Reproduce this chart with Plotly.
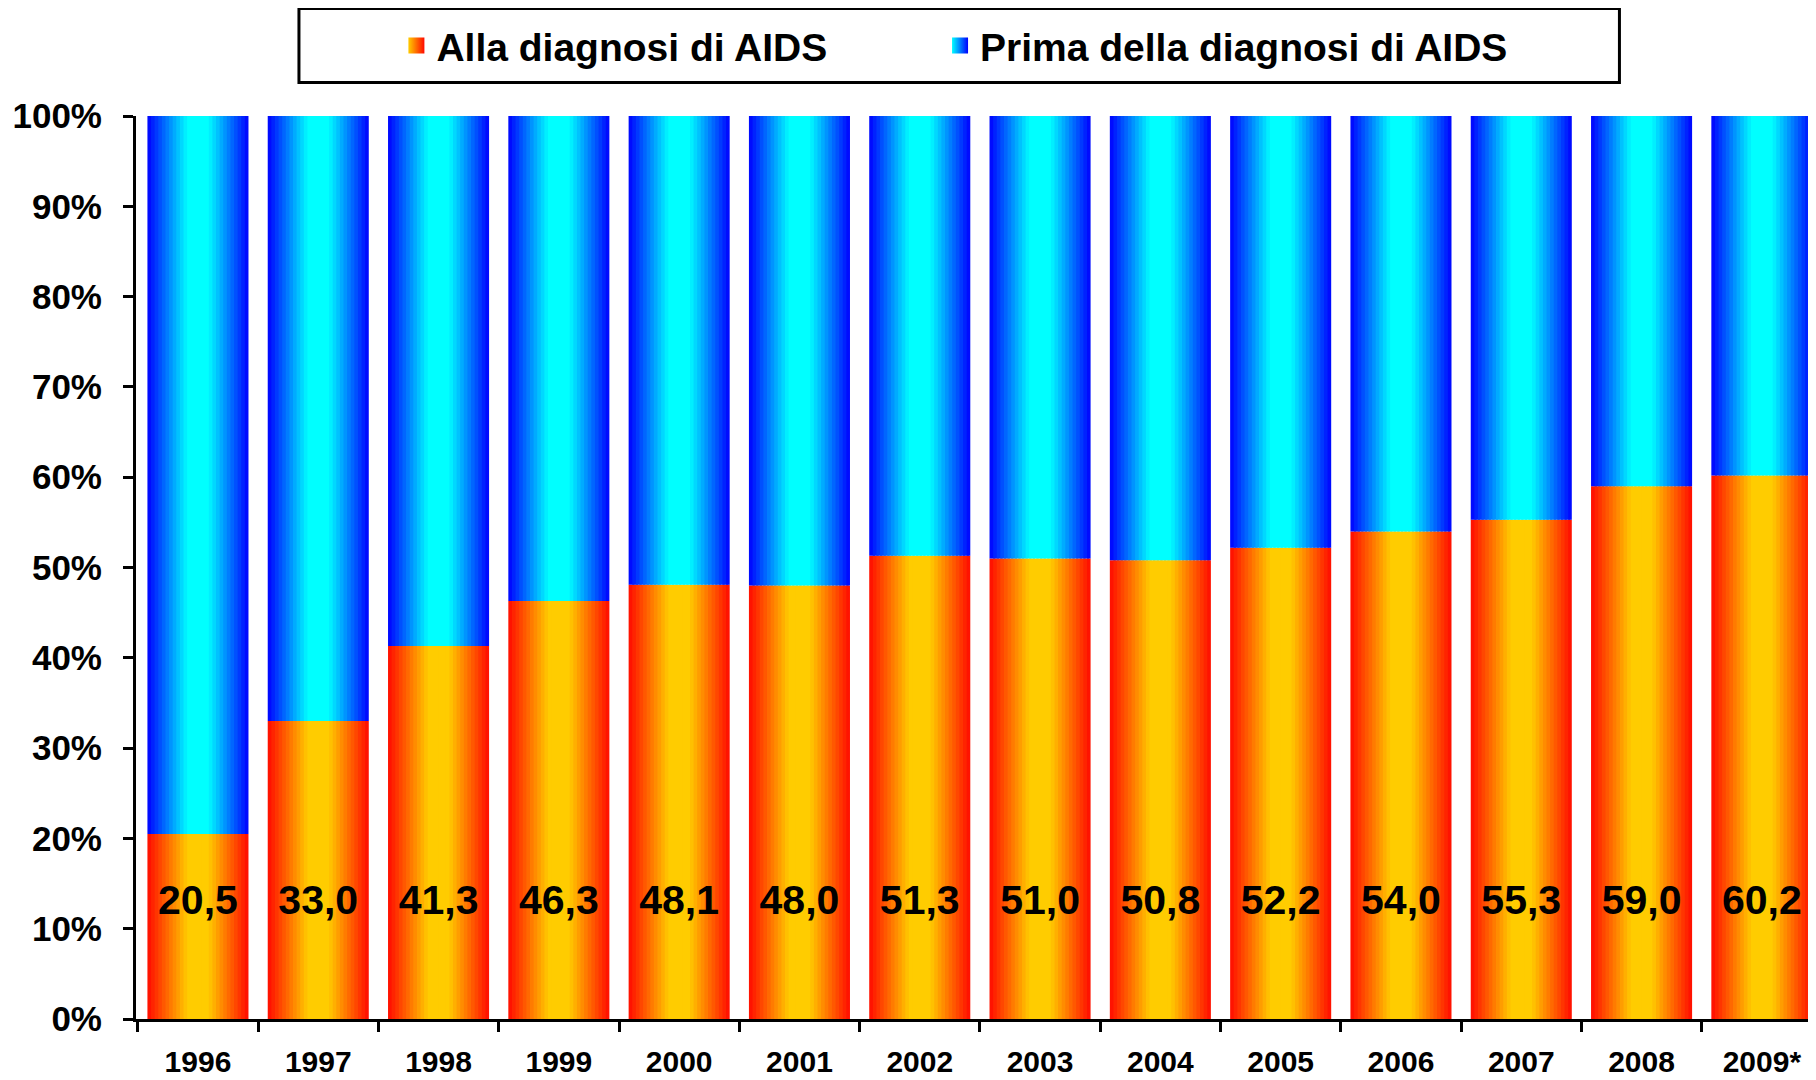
import plotly.graph_objects as go

# data
years = ["1996", "1997", "1998", "1999", "2000", "2001", "2002",
         "2003", "2004", "2005", "2006", "2007", "2008", "2009*"]
alla_diagnosi = [20.5, 33.0, 41.3, 46.3, 48.1, 48.0, 51.3,
                 51.0, 50.8, 52.2, 54.0, 55.3, 59.0, 60.2]
prima_diagnosi = [round(100 - v, 1) for v in alla_diagnosi]
labels = [f"{v:.1f}".replace(".", ",") for v in alla_diagnosi]

series_names = ["Alla diagnosi di AIDS", "Prima della diagnosi di AIDS"]

# styling
FONT = "Liberation Sans"
BAR_WIDTH = 0.84
N_SLICES = 28
LABEL_Y = 12.8
ORANGE_CENTER, ORANGE_EDGE = (255, 204, 0), (255, 10, 0)
BLUE_CENTER, BLUE_EDGE = (0, 255, 255), (0, 0, 255)


def mix(c1, c2, f):
    return "rgb(%d,%d,%d)" % tuple(round(a + (b - a) * f) for a, b in zip(c1, c2))


def edge_factor(pos):
    # 0 in the middle of the bar, 1 at its edges (horizontal gradient)
    t = abs(pos - 0.5) * 2
    return min(max((t - 0.2) / 0.8, 0), 1)


fig = go.Figure()

slice_w = BAR_WIDTH / N_SLICES
for i in range(N_SLICES):
    pos = (i + 0.5) / N_SLICES
    f = edge_factor(pos)
    off = -BAR_WIDTH / 2 + i * slice_w
    w = slice_w * 1.6 if i < N_SLICES - 1 else slice_w
    fig.add_trace(go.Bar(
        x=years, y=alla_diagnosi, offset=off, width=w,
        marker=dict(color=mix(ORANGE_CENTER, ORANGE_EDGE, f), line=dict(width=0)),
        name=series_names[0], showlegend=False, hoverinfo="skip",
    ))
    fig.add_trace(go.Bar(
        x=years, y=prima_diagnosi, base=alla_diagnosi, offset=off, width=w,
        marker=dict(color=mix(BLUE_CENTER, BLUE_EDGE, f), line=dict(width=0)),
        name=series_names[1], showlegend=False, hoverinfo="skip",
    ))

# legend entries, one legend each so they can be placed apart
legend_grad = [(ORANGE_CENTER, ORANGE_EDGE), (BLUE_CENTER, BLUE_EDGE)]
for name, (c_mid, c_edge), lg in zip(series_names, legend_grad, ["legend", "legend2"]):
    fig.add_trace(go.Scatter(
        x=[None], y=[None], mode="markers", name=name, legend=lg,
        marker=dict(symbol="square", size=16, color=mix(c_mid, c_mid, 0),
                    gradient=dict(type="horizontal", color=mix(c_edge, c_edge, 0)),
                    line=dict(width=0)),
    ))

fig.add_trace(go.Scatter(
    x=years, y=[LABEL_Y] * len(years), mode="text", text=labels,
    textfont=dict(family=FONT, size=41, color="black", weight="bold"),
    showlegend=False, hoverinfo="skip",
))

# legend frame
fig.add_shape(type="rect", xref="paper", yref="paper",
              x0=0.097, x1=0.883, y0=1.037, y1=1.119,
              line=dict(color="black", width=3), fillcolor="white", layer="below")

legend_style = dict(
    y=1.078, yanchor="middle", xanchor="left",
    font=dict(family=FONT, size=39, color="black", weight="bold"),
    bgcolor="rgba(0,0,0,0)", borderwidth=0, itemsizing="trace",
)

# the page body adds an 8px offset, so the figure is 8px smaller on each side
fig.update_layout(
    width=1808, height=1072,
    margin=dict(l=128, r=0, t=108, b=61, autoexpand=False),
    paper_bgcolor="white", plot_bgcolor="white",
    barmode="overlay",
    font=dict(family=FONT, color="black"),
    legend=dict(x=0.155, **legend_style),
    legend2=dict(x=0.4786, **legend_style),
    xaxis=dict(
        type="category", categoryorder="array", categoryarray=years,
        range=[-0.515, 13.45], automargin=False,
        showline=True, linecolor="black", linewidth=3,
        ticks="outside", tickson="boundaries", ticklen=10, tickwidth=3, tickcolor="black",
        tickfont=dict(family=FONT, size=30, color="black", weight="bold"),
        ticklabelstandoff=14, showgrid=False, zeroline=False,
    ),
    yaxis=dict(
        range=[0, 100], dtick=10, ticksuffix="%", automargin=False,
        showline=True, linecolor="black", linewidth=3,
        ticks="outside", ticklen=10, tickwidth=3, tickcolor="black",
        tickfont=dict(family=FONT, size=35, color="black", weight="bold"),
        ticklabelstandoff=14, showgrid=False, zeroline=False,
    ),
)

fig.write_html("out.html")
